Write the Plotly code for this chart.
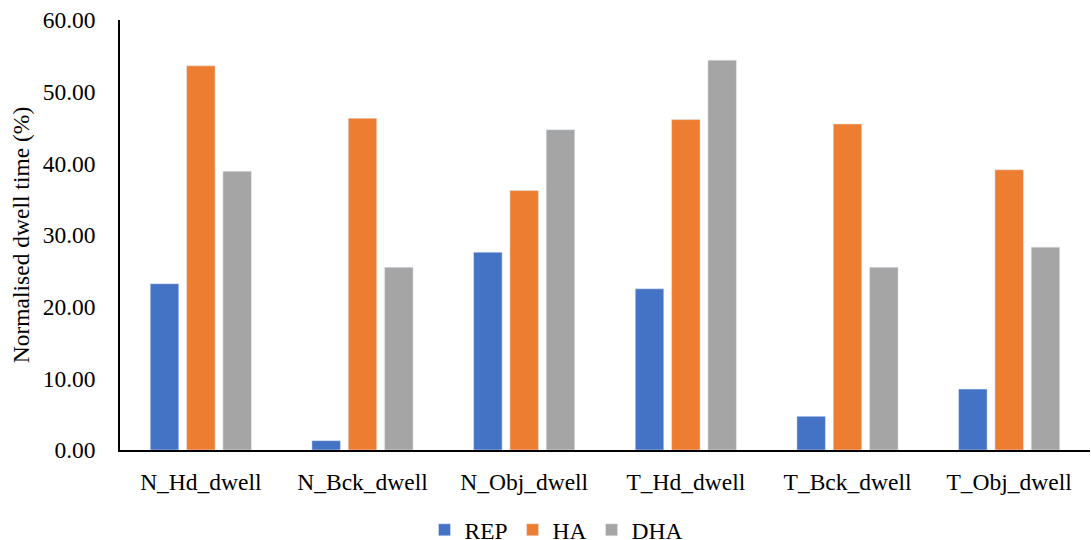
import plotly.graph_objects as go

categories = ["N_Hd_dwell", "N_Bck_dwell", "N_Obj_dwell", "T_Hd_dwell", "T_Bck_dwell", "T_Obj_dwell"]
rep = [23.2, 1.3, 27.6, 22.5, 4.7, 8.5]
ha = [53.6, 46.3, 36.2, 46.1, 45.5, 39.1]
dha = [38.9, 25.5, 44.7, 54.4, 25.5, 28.3]

series = [("REP", rep, "#4472C4"), ("HA", ha, "#ED7D31"), ("DHA", dha, "#A5A5A5")]
serif = dict(family="Liberation Serif", size=23.5, color="#000000")

fig = go.Figure()
for name, vals, color in series:
    fig.add_trace(go.Bar(name=name, x=categories, y=vals, marker_color=color))

fig.update_layout(
    width=1091, height=540,
    font=serif,
    margin=dict(l=120, r=1, t=20, b=90, autoexpand=False),
    paper_bgcolor="white", plot_bgcolor="white",
    barmode="group", bargap=0.326, bargroupgap=0.215,
    legend=dict(orientation="h", x=0.45, xanchor="center", y=-0.135, yanchor="top",
                font=serif, itemwidth=30),
)
fig.update_xaxes(
    showline=True, linecolor="#000000", linewidth=1.5, showgrid=False,
    ticks="outside", ticklen=10, tickcolor="rgba(0,0,0,0)",
    tickfont=serif,
)
fig.update_yaxes(
    range=[0, 60], dtick=10, tickformat=".2f",
    showline=True, linecolor="#000000", linewidth=1.5, showgrid=False, zeroline=False,
    ticks="outside", ticklen=18, tickcolor="rgba(0,0,0,0)",
    tickfont=serif,
    title_text="Normalised dwell time (%)", title_font=serif, title_standoff=6,
)
fig.write_html("out.html")
